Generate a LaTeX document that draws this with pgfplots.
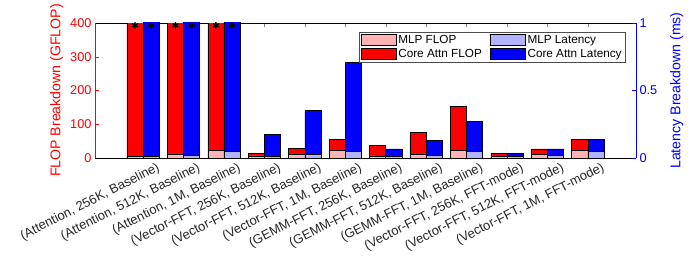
\documentclass[border=0pt]{standalone}
\usepackage{pgfplots}
\usepackage{pgfplotstable}
\pgfplotsset{compat=1.18}
\usepackage{fontspec}
\setmainfont{Liberation Sans}
\definecolor{pinkc}{RGB}{255,179,179}
\definecolor{lblue}{RGB}{179,179,255}
\definecolor{ared}{RGB}{255,0,0}
\definecolor{ablue}{RGB}{0,0,255}
\pgfplotstableread{
x mlpf attf mlpl attl
1 5 995 0.012 5
2 10 990 0.020 5
3 23 977 0.047 5
4 6 7 0.012 0.163
5 10 18 0.025 0.328
6 23 32 0.047 0.662
7 5 31.5 0.012 0.055
8 10 65 0.022 0.109
9 22 130 0.047 0.222
10 5 8 0.012 0.020
11 10 17 0.020 0.047
12 22 33 0.047 0.089
}\data
\begin{document}
\begin{tikzpicture}
\pgfplotsset{
  common/.style={
    scale only axis, width=541bp, height=135bp,
    xmin=-0.19, xmax=13.19,
    tick align=inside,
    major tick length=4bp,
    /pgf/number format/assume math mode=true,
    tick label style={font=\fontsize{12.8}{14}\selectfont},
    label style={font=\fontsize{14.2}{16}\selectfont},
  },
}
\begin{axis}[common, name=ax1,
  ymin=0, ymax=400, ytick={0,100,200,300,400},
  xtick={1,...,12}, xtick pos=both, ytick pos=left,
  xticklabels={{(Attention, 256K, Baseline)},{(Attention, 512K, Baseline)},{(Attention, 1M, Baseline)},{(Vector-FFT, 256K, Baseline)},{(Vector-FFT, 512K, Baseline)},{(Vector-FFT, 1M, Baseline)},{(GEMM-FFT, 256K, Baseline)},{(GEMM-FFT, 512K, Baseline)},{(GEMM-FFT, 1M, Baseline)},{(Vector-FFT, 256K, FFT-mode)},{(Vector-FFT, 512K, FFT-mode)},{(Vector-FFT, 1M, FFT-mode)}},
  xticklabel style={rotate=27, anchor=north east, inner sep=0bp, xshift=10bp, yshift=-9bp, color=black!85, font=\fontsize{13}{14}\selectfont},
  separate axis lines,
  y axis line style={ared},
  x axis line style={black},
  ytick style={ared},
  yticklabel style={ared},
  ylabel={FLOP Breakdown (GFLOP)}, ylabel style={ared},
]
\addplot[ybar, bar width=0.4, bar shift=-0.2, fill=ared, draw=black, line width=0.6pt]
  table[x=x, y expr=\thisrow{mlpf}+\thisrow{attf}] {\data};
\addplot[ybar, bar width=0.4, bar shift=-0.2, fill=pinkc, draw=black, line width=0.6pt]
  table[x=x, y=mlpf] {\data};
\end{axis}
\begin{axis}[common,
  ymin=0, ymax=1, ytick={0,0.5,1},
  axis y line*=right, axis x line=none,
  y axis line style={ablue},
  ytick style={ablue},
  yticklabel style={ablue},
  ylabel={Latency Breakdown (ms)}, ylabel style={ablue},
  ylabel shift=6bp,
  legend columns=2,
  legend style={at={(0.488,0.933)}, anchor=north west, draw=black!70, fill=white,
    font=\fontsize{11.8}{13}\selectfont, inner sep=1.5bp, row sep=0bp,
    /tikz/every even column/.append style={column sep=6bp}},
  legend cell align=left,
  legend image code/.code={\draw[#1, line width=0.6pt] (0bp,-5bp) rectangle (35bp,6bp);},
]
\addlegendimage{fill=pinkc, draw=black}
\addlegendentry{MLP FLOP}
\addlegendimage{fill=lblue, draw=black}
\addlegendentry{MLP Latency}
\addlegendimage{fill=ared, draw=black}
\addlegendentry{Core Attn FLOP}
\addlegendimage{fill=ablue, draw=black}
\addlegendentry{Core Attn Latency}
\addplot[forget plot, ybar, bar width=0.4, bar shift=0.2, fill=ablue, draw=black, line width=0.6pt]
  table[x=x, y expr=\thisrow{mlpl}+\thisrow{attl}] {\data};
\addplot[forget plot, ybar, bar width=0.4, bar shift=0.2, fill=lblue, draw=black, line width=0.6pt]
  table[x=x, y=mlpl] {\data};
\end{axis}
\begin{axis}[common, hide axis, ymin=0, ymax=1, clip=false]
\addplot[only marks, mark=asterisk, mark size=3.3pt, black, line width=1.3pt]
  coordinates {(0.8,0.982)(1.2,0.982)(1.8,0.982)(2.2,0.982)(2.8,0.982)(3.2,0.982)};
\end{axis}
\pgfresetboundingbox
\path[use as bounding box] ([xshift=-95bp,yshift=-112bp]ax1.south west) rectangle ([xshift=60bp,yshift=23bp]ax1.north east);
\end{tikzpicture}
\end{document}
